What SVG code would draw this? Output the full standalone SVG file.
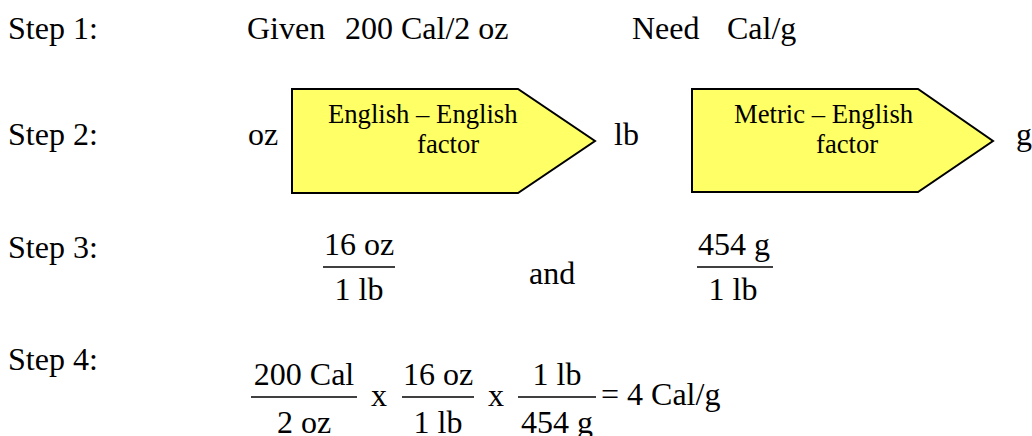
<svg xmlns="http://www.w3.org/2000/svg" width="1032" height="436" viewBox="0 0 1032 436">
<style>
text{font-family:"Liberation Serif","Times New Roman",serif;font-size:32px;fill:#000}
.s{font-size:26.67px}
.m{text-anchor:middle}
.arrow{fill:#FFFF66;stroke:#000;stroke-width:2;stroke-linejoin:miter}
.bar{stroke:#000;stroke-width:1.6}
</style>
<rect width="1032" height="436" fill="#fff"/>
<g id="step1">
<text x="8" y="39">Step 1:</text>
<text x="247" y="39">Given</text>
<text x="345" y="39">200 Cal/2 oz</text>
<text x="632" y="39">Need</text>
<text x="727" y="39">Cal/g</text>
</g>
<g id="step2">
<text x="8" y="145">Step 2:</text>
<text x="248" y="145">oz</text>
<text x="614" y="145">lb</text>
<text x="1016" y="145">g</text>
</g>
<g id="arrow1">
<polygon class="arrow" points="292,89 518,89 595,141 518,193 292,193"/>
<text class="s" x="328" y="123">English – English</text>
<text class="s" x="417" y="153">factor</text>
</g>
<g id="arrow2">
<polygon class="arrow" points="692,89 918,89 993,141 918,192 692,192"/>
<text class="s" x="734" y="123">Metric – English</text>
<text class="s" x="816" y="153">factor</text>
</g>
<g id="connectors"></g>
<g id="step3">
<text x="8" y="258">Step 3:</text>
<text class="m" x="359" y="255">16 oz</text>
<line class="bar" x1="323" y1="267" x2="395" y2="267"/>
<text class="m" x="359" y="300">1 lb</text>
<text x="529" y="284">and</text>
<text class="m" x="734" y="255">454 g</text>
<line class="bar" x1="697" y1="267" x2="773" y2="267"/>
<text class="m" x="733" y="300">1 lb</text>
</g>
<g id="step4">
<text x="8" y="370">Step 4:</text>
<text class="m" x="304" y="385">200 Cal</text>
<line class="bar" x1="251" y1="397" x2="357" y2="397"/>
<text class="m" x="304" y="433">2 oz</text>
<text x="371" y="406">x</text>
<text class="m" x="438" y="385">16 oz</text>
<line class="bar" x1="402" y1="397" x2="474" y2="397"/>
<text class="m" x="438" y="433">1 lb</text>
<text x="488" y="406">x</text>
<text class="m" x="557" y="385">1 lb</text>
<line class="bar" x1="518" y1="397" x2="596" y2="397"/>
<text class="m" x="557" y="433">454 g</text>
<text x="601" y="405">= 4 Cal/g</text>
</g>
</svg>
